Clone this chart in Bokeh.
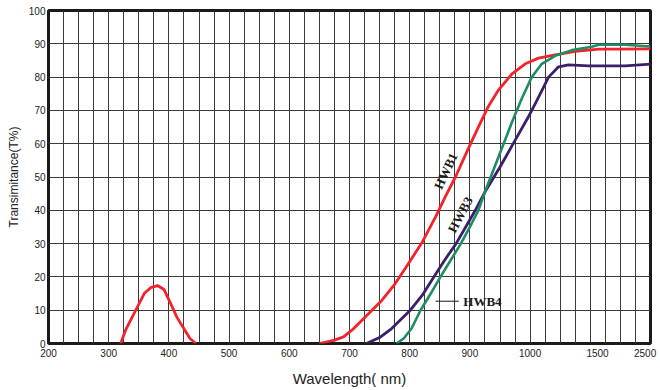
import numpy as np
from bokeh.plotting import figure
from bokeh.models import FixedTicker, Range1d, Label
from bokeh.embed import file_html
from bokeh.resources import INLINE

# ---- axis calibration (wavelength -> position along the broken x axis) ----
axis_nm = [200, 1000, 1500, 2500]
axis_pos = [200, 1000, 1112, 1200]

x_tick_nm = [200, 300, 400, 500, 600, 700, 800, 900, 1000, 1500, 2500]
x_tick_labels = ["200", "300", "400", "500", "600", "700", "800", "900", "1000", "1500", "2500"]
y_ticks = [0, 10, 20, 30, 40, 50, 60, 70, 80, 90, 100]

# ---- series (wavelength nm, transmittance %) ----
# HWB1: UV leak band and NIR edge
hwb1_uv_nm = [320, 328, 342, 359, 370, 381, 392, 403, 413, 423, 435, 445]
hwb1_uv_t = [0, 4, 9, 15, 16.8, 17.4, 16.2, 12, 8, 5, 1.5, 0]
hwb1_nir_nm = [650, 675, 690, 704, 732, 754, 776, 798, 821, 843, 859, 876, 896, 914,
               930, 947, 970, 992, 1062, 1186, 1335, 1523, 1837, 2500]
hwb1_nir_t = [0, 1, 2, 4, 9, 13, 18, 24, 30.5, 38, 44, 50, 58, 65,
              71, 76, 81, 84, 85.7, 86.7, 87.7, 88.4, 88.4, 88.5]

hwb3_nm = [728, 750, 770, 801, 821, 840, 858, 877, 893, 909, 925, 950, 975, 997, 1062,
           1137, 1211, 1285, 1434, 2023, 2500]
hwb3_t = [0, 1.8, 4.5, 10, 14.5, 20, 25, 30, 35, 40, 45.5, 53, 61, 68, 73.9,
          80, 83.1, 83.7, 83.4, 83.4, 83.9]

hwb4_nm = [778, 790, 803, 818, 835, 851, 868, 885, 900, 914, 926, 941, 956, 970, 986,
           1012, 1087, 1186, 1310, 1459, 1523, 2023, 2500]
hwb4_t = [0, 1.5, 4.5, 10, 15, 20, 25, 30, 35, 40, 46, 53, 60, 66.5, 73.5,
          80, 84, 86.4, 88.1, 89.1, 89.7, 89.7, 89.2]


def pos(nm):
    return list(np.interp(nm, axis_nm, axis_pos))


p = figure(width=660, height=390, output_backend="svg", toolbar_location=None,
           x_range=Range1d(200, 1200), y_range=Range1d(0, 100),
           min_border_left=48, min_border_right=10, min_border_top=10, min_border_bottom=47)

p.background_fill_color = "white"
p.border_fill_color = "white"
p.outline_line_color = "#1a1a1a"
p.outline_line_width = 3

# grid
p.xgrid.ticker = FixedTicker(ticks=list(range(200, 1201, 25)))
p.ygrid.ticker = FixedTicker(ticks=y_ticks)
for g in (p.xgrid, p.ygrid):
    g.grid_line_color = "#3a3a3a"
    g.grid_line_width = 1
    g.grid_line_alpha = 1

# x axis
tick_positions = [int(round(v)) for v in pos(x_tick_nm)]
tick_positions[-1] -= 9  # keep the last label inside the canvas
p.xaxis.ticker = FixedTicker(ticks=tick_positions)
p.xaxis.major_label_overrides = {t: l for t, l in zip(tick_positions, x_tick_labels)}
p.yaxis.ticker = FixedTicker(ticks=y_ticks)

for ax in (p.xaxis, p.yaxis):
    ax.axis_line_color = None
    ax.major_tick_line_color = None
    ax.minor_tick_line_color = None
    ax.major_tick_out = 0
    ax.major_tick_in = 0
    ax.minor_tick_out = 0
    ax.major_label_text_font = "Liberation Sans"
    ax.major_label_text_font_size = "10px"
    ax.major_label_text_color = "#222222"
    ax.axis_label_text_font = "Liberation Sans"
    ax.axis_label_text_font_style = "normal"
    ax.axis_label_text_color = "#222222"

p.xaxis.major_label_standoff = 5
p.yaxis.major_label_standoff = 3
p.xaxis.axis_label = "Wavelength( nm)"
p.xaxis.axis_label_text_font_size = "15px"
p.xaxis.axis_label_standoff = 10
p.yaxis.axis_label = "Transimitance(T%)"
p.yaxis.axis_label_text_font_size = "12px"
p.yaxis.axis_label_standoff = 5

# curves
red = "#f2232b"
p.line(pos(hwb1_uv_nm), hwb1_uv_t, line_color=red, line_width=2.8)
p.line(pos(hwb1_nir_nm), hwb1_nir_t, line_color=red, line_width=2.8)
p.line(pos(hwb3_nm), hwb3_t, line_color="#3b1f6b", line_width=2.8)
p.line(pos(hwb4_nm), hwb4_t, line_color="#1e8c64", line_width=2.6)

# curve labels
lab_kw = dict(text_font="Liberation Serif", text_font_style="bold", text_font_size="13px",
              text_color="#1a1a1a")
p.add_layout(Label(x=860, y=51.8, text="HWB1", angle=65, angle_units="deg",
                   text_align="center", text_baseline="middle", **lab_kw))
p.add_layout(Label(x=884, y=38.7, text="HWB3", angle=62, angle_units="deg",
                   text_align="center", text_baseline="middle", **lab_kw))
p.add_layout(Label(x=889, y=12.7, text="HWB4", text_align="left", text_baseline="middle", **lab_kw))
p.line([843, 881.5], [12.7, 12.7], line_color="#1a1a1a", line_width=1)

open("out.html", "w").write(file_html(p, INLINE))
